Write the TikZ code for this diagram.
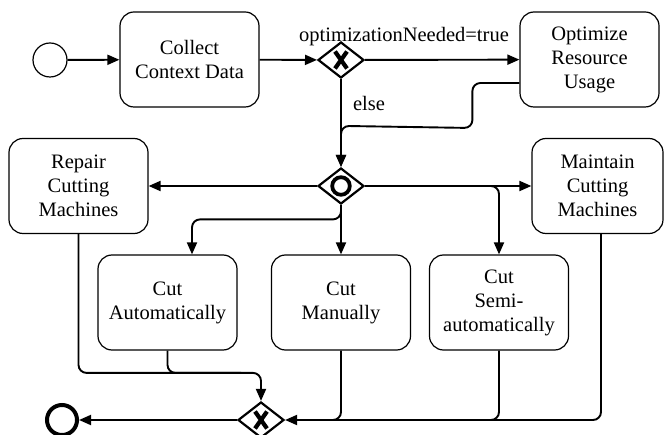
\documentclass[tikz,border=0pt]{standalone}
\usepackage{fontspec}
\setmainfont{Liberation Serif}
\usetikzlibrary{shapes.geometric,arrows.meta,calc}
\begin{document}
\begin{tikzpicture}[x=1pt,y=-1pt,
 task/.style={draw, rounded corners=14pt, line width=1.2pt, minimum width=139pt, minimum height=95pt, align=center, inner sep=0pt, font=\fontsize{20.5}{24}\selectfont},
 gw/.style={draw, diamond, line width=2.2pt, minimum width=46pt, minimum height=36pt, inner sep=0pt},
 flow/.style={line width=1.9pt, -{Triangle[length=12pt,width=10pt]}, rounded corners=8pt},
 plain/.style={line width=1.9pt, rounded corners=8pt},
 lbl/.style={font=\fontsize{20.5}{24}\selectfont, inner sep=0pt},
 xmark/.style={line width=4.2pt},
]
\fill[white] (0,0) rectangle (664,435);
\clip (0,0) rectangle (664,435);
\node[circle, draw, line width=1.2pt, minimum size=34pt, inner sep=0pt] (start) at (50,60) {};
\node[task] (collect) at (189.5,59.5) {Collect\\Context Data};
\node[gw] (x1) at (341,60) {};
\node[task] (opt) at (589.5,59.5) {Optimize\\Resource\\Usage};
\node[gw] (or) at (341,186) {};
\node[task] (repair) at (78.5,186) {Repair\\Cutting\\Machines};
\node[task, minimum width=131pt] (maint) at (597.5,186) {Maintain\\Cutting\\Machines};
\node[task] (cauto) at (167.5,302.5) {Cut\\Automatically};
\node[task] (cman) at (341,302.5) {Cut\\Manually};
\node[task] (csemi) at (499,302.5) {Cut\\Semi-\\automatically};
\node[gw] (x2) at (261,420) {};
\node[circle, draw, line width=4pt, minimum size=30pt, inner sep=0pt] (end) at (62,420) {};
\node[lbl, anchor=base] (ltrue) at (404,42) {optimizationNeeded=true};
\node[lbl, anchor=base] (lelse) at (369,111) {else};
% markers
\draw[xmark] ($(x1)+(-6,-8.5)$) -- ($(x1)+(6,8.5)$) ($(x1)+(-6,8.5)$) -- ($(x1)+(6,-8.5)$);
\draw[xmark] ($(x2)+(-6,-8.5)$) -- ($(x2)+(6,8.5)$) ($(x2)+(-6,8.5)$) -- ($(x2)+(6,-8.5)$);
\draw[line width=3.8pt] (or) circle[radius=8.8];
% flows
\draw[flow] (start) -- (collect);
\draw[flow] (collect) -- (x1);
\draw[flow] (x1) -- (opt);
\draw[flow] (x1) -- (or);
\draw[flow] ($(opt.west)+(0,23.5)$) -- ($(opt.west)+(-47,23.5)$) -- ($(opt.west)+(-47,68.5)$) -- ($(or.north)+(0,-41)$) -- (or.north);
\draw[flow] (or) -- (repair);
\draw[flow] (or) -- (maint);
\draw[flow] (or) -- (cman);
\draw[flow] (or.south) |- ($(cauto.north)+(24.5,-35)$) -- ($(cauto.north)+(24.5,0)$);
\draw[flow] (or.east) -| (csemi.north);
\draw[flow] (repair.south) |- ($(x2.north)+(0,-28)$) -- (x2.north);
\draw[plain] (cauto.south) |- ($(x2.north)+(-20,-28)$);
\draw[flow] (cman.south) |- (x2.east);
\draw[plain] (csemi.south) |- ($(x2.east)+(20,0)$);
\draw[plain] ($(maint.south)+(3.5,0)$) |- ($(x2.east)+(20,0)$);
\draw[flow] (x2) -- (end);
\end{tikzpicture}
\end{document}
